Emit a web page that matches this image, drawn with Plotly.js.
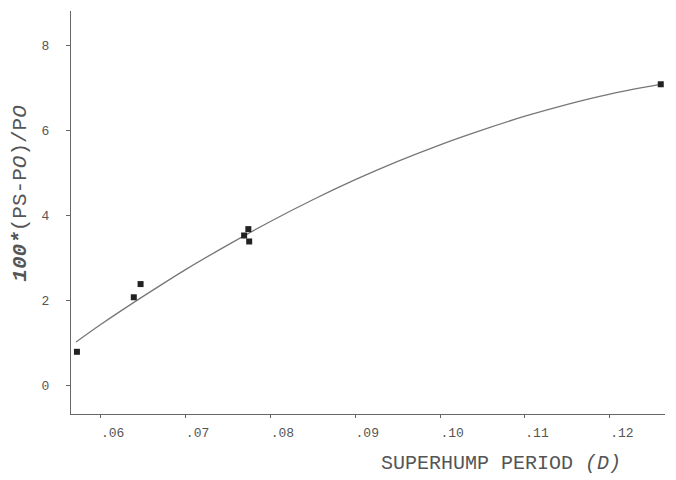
<!DOCTYPE html>
<html>
<head>
<meta charset="utf-8">
<script src="https://cdn.plot.ly/plotly-3.0.1.min.js"></script>
<style>html,body{margin:0;padding:0;background:#fff;}#chart{width:676px;height:480px;}</style>
</head>
<body>
<div id="chart"></div>
<script>
// Observed points: superhump period (d) vs 100*(Ps-Po)/Po
const obsPeriod = [0.0572, 0.0639, 0.0647, 0.0769, 0.0774, 0.0775, 0.1260];
const obsExcess = [0.80, 2.08, 2.39, 3.53, 3.68, 3.39, 7.08];

// Fitted curve
const fitPeriod = [0.0571, 0.060, 0.065, 0.070, 0.075, 0.080, 0.085, 0.090, 0.095, 0.100, 0.105, 0.110, 0.115, 0.120, 0.1258];
const fitExcess = [1.03, 1.44, 2.10, 2.73, 3.31, 3.86, 4.37, 4.84, 5.27, 5.66, 6.01, 6.33, 6.61, 6.85, 7.07];

const xTickVals = [0.06, 0.07, 0.08, 0.09, 0.10, 0.11, 0.12];
const xTickText = ['.06', '.07', '.08', '.09', '.10', '.11', '.12'];
const yTickVals = [0, 2, 4, 6, 8];
const yTickText = ['0', '2', '4', '6', '8'];

const xTitle = 'SUPERHUMP PERIOD <i>(D)</i>';
const yTitle = '<b><i>100*</i></b>(PS-P<i>O</i>)/P<i>O</i>';

const tickFont = {family: 'Liberation Mono, DejaVu Sans Mono, monospace', size: 13, color: '#555'};

const traces = [
  {
    x: fitPeriod, y: fitExcess, type: 'scatter', mode: 'lines',
    line: {color: '#777', width: 1.3, shape: 'spline'},
    hoverinfo: 'skip', showlegend: false
  },
  {
    x: obsPeriod, y: obsExcess, type: 'scatter', mode: 'markers',
    marker: {symbol: 'square', size: 6, color: '#222'},
    showlegend: false
  }
];

const layout = {
  width: 676, height: 480,
  margin: {l: 71, r: 11, t: 11, b: 66},
  paper_bgcolor: '#fff', plot_bgcolor: '#fff',
  showlegend: false,
  xaxis: {
    range: [0.0565, 0.1265],
    tickvals: xTickVals, ticktext: xTickText,
    showgrid: false, zeroline: false,
    showline: true, linecolor: '#666', linewidth: 1.2,
    ticks: 'outside', ticklen: 3, tickcolor: '#666', tickwidth: 1,
    tickfont: tickFont, ticklabelstandoff: 3, ticklabelshift: 12
  },
  yaxis: {
    range: [-0.66, 8.8],
    tickvals: yTickVals, ticktext: yTickText,
    showgrid: false, zeroline: false,
    showline: true, linecolor: '#666', linewidth: 1.2,
    ticks: 'outside', ticklen: 4, tickcolor: '#666', tickwidth: 1,
    tickfont: tickFont, ticklabelstandoff: 14
  },
  annotations: [
    {
      text: xTitle, xref: 'paper', yref: 'paper', x: 0.724, y: -0.1216,
      xanchor: 'center', yanchor: 'middle', showarrow: false,
      font: {family: 'Liberation Mono, DejaVu Sans Mono, monospace', size: 20, color: '#555'}
    },
    {
      text: yTitle, xref: 'paper', yref: 'paper', x: -0.085, y: 0.548,
      xanchor: 'center', yanchor: 'middle', showarrow: false, textangle: -90,
      font: {family: 'Liberation Mono, DejaVu Sans Mono, monospace', size: 21, color: '#555'}
    }
  ]
};

Plotly.newPlot('chart', traces, layout, {displayModeBar: false, staticPlot: true});
</script>
</body>
</html>
